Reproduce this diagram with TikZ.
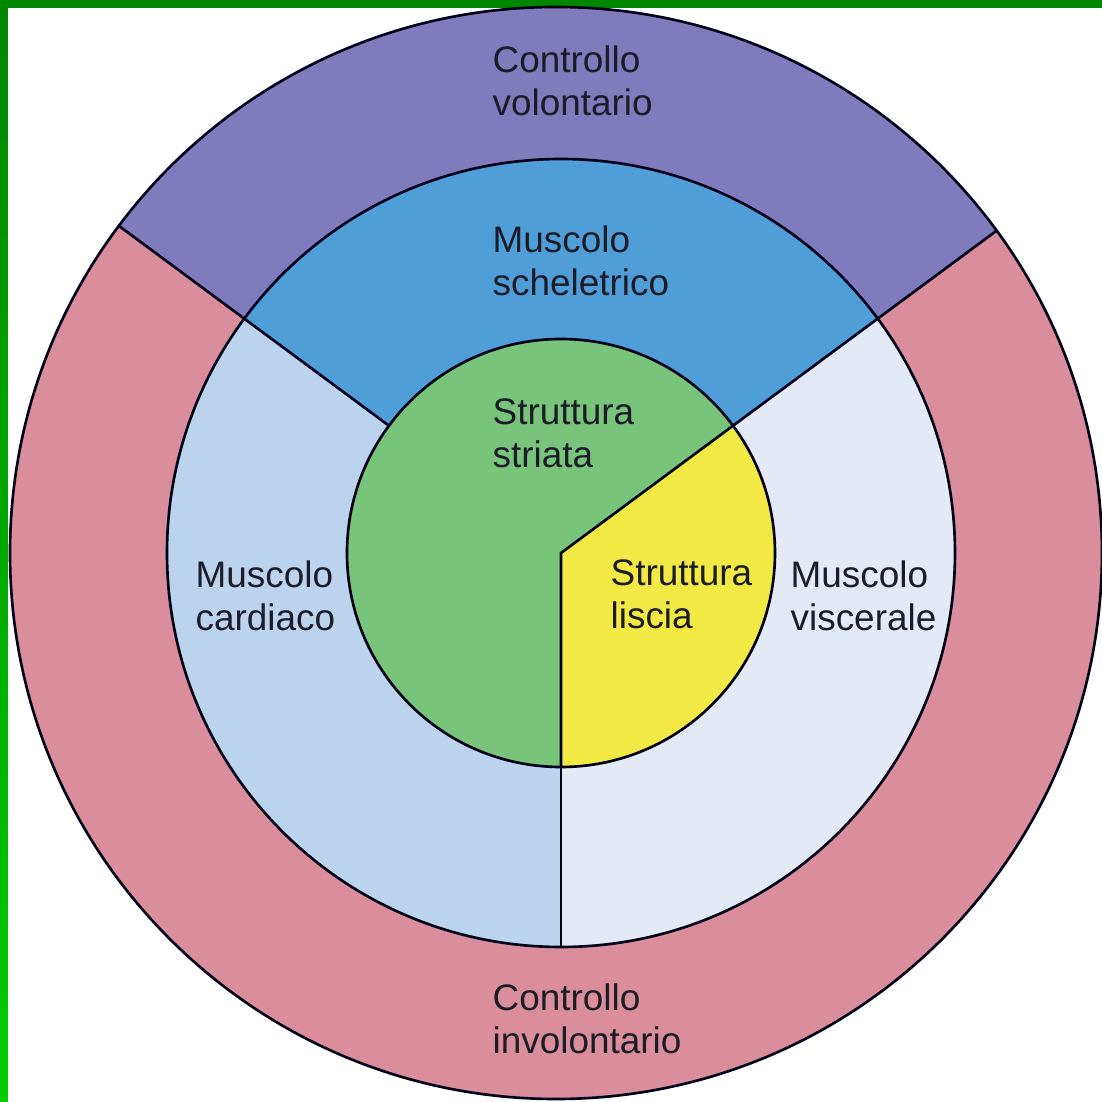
\documentclass[tikz,border=0pt]{standalone}
\usepackage{fontspec}
\setmainfont{Liberation Sans}
\definecolor{volontario}{HTML}{7F7BBD}
\definecolor{involontario}{HTML}{DA8E9B}
\definecolor{scheletrico}{HTML}{4F9ED8}
\definecolor{cardiaco}{HTML}{BCD3EE}
\definecolor{viscerale}{HTML}{E3E9F5}
\definecolor{striata}{HTML}{77C47A}
\definecolor{liscia}{HTML}{F2E944}
\definecolor{testo}{HTML}{1C1C28}
\begin{document}
\begin{tikzpicture}
\tikzstyle{sep}=[draw=black!90!blue,line width=0.75pt]
\tikzstyle{lbl}=[anchor=north west,inner sep=0pt,align=left,text=testo,font={\fontsize{10.5}{12.2}\selectfont}]
\useasboundingbox (-5.61,-5.49) rectangle (5.41,5.53);
% cornice verde
\fill[green!53!black] (-5.61,5.45) rectangle (5.41,5.53);
\shade[top color=green!53!black,bottom color=green!80!black] (-5.61,-5.49) rectangle (-5.53,5.45);
\coordinate (O) at (0,0);
\coordinate (Oe) at (-0.05,0);
% anello esterno
\fill[involontario] (Oe) circle (5.46);
\begin{scope}
\clip (Oe) circle (5.46);
\fill[volontario] (O) -- (36.5:8) arc[start angle=36.5,end angle=143.5,radius=8] -- cycle;
\draw[sep] (143.5:3.94) -- (143.5:8);
\draw[sep] (36.5:3.94) -- (36.5:8);
\end{scope}
\draw[sep] (Oe) circle (5.46);
% anello medio
\fill[scheletrico] (O) -- (36.5:3.94) arc[start angle=36.5,end angle=143.5,radius=3.94] -- cycle;
\fill[cardiaco] (O) -- (143.5:3.94) arc[start angle=143.5,end angle=270,radius=3.94] -- cycle;
\fill[viscerale] (O) -- (270:3.94) arc[start angle=270,end angle=396.5,radius=3.94] -- cycle;
\draw[sep] (143.5:2.14) -- (143.5:3.94);
\draw[sep] (36.5:2.14) -- (36.5:3.94);
\draw[sep] (270:2.14) -- (270:3.94);
\draw[sep] (O) circle (3.94);
% cerchio interno
\fill[striata] (O) -- (36.5:2.14) arc[start angle=36.5,end angle=270,radius=2.14] -- cycle;
\fill[liscia] (O) -- (270:2.14) arc[start angle=270,end angle=396.5,radius=2.14] -- cycle;
\draw[sep] (36.5:2.14) -- (O) -- (270:2.14);
\draw[sep] (O) circle (2.14);
% testi
\node[lbl] (volo) at (-0.69,5.08) {Controllo\\volontario};
\node[lbl] (schel) at (-0.69,3.28) {Muscolo\\scheletrico};
\node[lbl] (stri) at (-0.69,1.55) {Struttura\\striata};
\node[lbl] (card) at (-3.66,-0.07) {Muscolo\\cardiaco};
\node[lbl] (lisc) at (0.49,-0.06) {Struttura\\liscia};
\node[lbl] (visc) at (2.29,-0.07) {Muscolo\\viscerale};
\node[lbl] (invo) at (-0.69,-4.30) {Controllo\\involontario};
\end{tikzpicture}
\end{document}
